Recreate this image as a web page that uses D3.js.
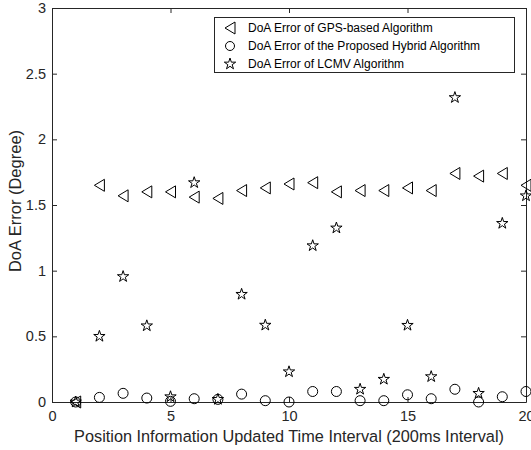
<!DOCTYPE html>
<html>
<head>
<meta charset="utf-8">
<script src="https://cdn.jsdelivr.net/npm/d3@7"></script>
<style>
  body { margin: 0; background: #fff; }
  svg { font-family: "Liberation Sans", Arial, sans-serif; }
</style>
</head>
<body>
<svg id="chart" width="531" height="450"></svg>
<script>
// values
var xs = [1, 2, 3, 4, 5, 6, 7, 8, 9, 10, 11, 12, 13, 14, 15, 16, 17, 18, 19, 20];
var gps = [0, 1.65, 1.57, 1.60, 1.60, 1.56, 1.55, 1.61, 1.63, 1.66, 1.67, 1.60, 1.61, 1.61, 1.63, 1.61, 1.74, 1.72, 1.74, 1.65];
var hybrid = [0, 0.035, 0.066, 0.03, 0.005, 0.025, 0.02, 0.06, 0.01, 0.0, 0.08, 0.08, 0.01, 0.01, 0.055, 0.025, 0.097, 0.0, 0.04, 0.08];
var lcmv = [0, 0.50, 0.955, 0.58, 0.04, 1.67, 0.02, 0.82, 0.585, 0.23, 1.19, 1.325, 0.097, 0.173, 0.584, 0.193, 2.318, 0.066, 1.36, 1.57];
var xTicks = [0, 5, 10, 15, 20];
var yTicks = [0, 0.5, 1, 1.5, 2, 2.5, 3];
var legendLabels = [
  "DoA Error of GPS-based Algorithm",
  "DoA Error of the Proposed Hybrid Algorithm",
  "DoA Error of LCMV Algorithm"
];

var plotL = 52, plotR = 526, plotT = 8, plotB = 402;
var svg = d3.select("#chart");

var x = d3.scaleLinear().domain([0, 20]).range([plotL, plotR]);
var y = d3.scaleLinear().domain([0, 3]).range([plotB, plotT]);

var tickFmt = function (d) { return d; };

// axes, ticks pointing inward like matlab
var gx = svg.append("g").attr("transform", "translate(0," + plotB + ")")
  .call(d3.axisBottom(x).tickValues(xTicks).tickSizeInner(-5).tickSizeOuter(0).tickPadding(9).tickFormat(tickFmt));
var gy = svg.append("g").attr("transform", "translate(" + plotL + ",0)")
  .call(d3.axisLeft(y).tickValues(yTicks).tickSizeInner(-5).tickSizeOuter(0).tickPadding(6).tickFormat(tickFmt));
var gt = svg.append("g").attr("transform", "translate(0," + plotT + ")")
  .call(d3.axisTop(x).tickValues(xTicks).tickSizeInner(-5).tickSizeOuter(0).tickFormat(""));
var gr = svg.append("g").attr("transform", "translate(" + plotR + ",0)")
  .call(d3.axisRight(y).tickValues(yTicks).tickSizeInner(-5).tickSizeOuter(0).tickFormat(""));

[gx, gy, gt, gr].forEach(function (g) {
  g.selectAll(".domain").attr("stroke", "#262626").attr("stroke-width", 1);
  g.selectAll(".tick line").attr("stroke", "#262626");
  g.selectAll(".tick text").attr("fill", "#262626").style("font-size", "14.5px");
});

svg.append("text")
  .attr("x", 289).attr("y", 442)
  .attr("text-anchor", "middle").attr("fill", "#262626")
  .style("font-size", "16.3px")
  .text("Position Information Updated Time Interval (200ms Interval)");

svg.append("text")
  .attr("transform", "translate(21,201) rotate(-90)")
  .attr("text-anchor", "middle").attr("fill", "#262626")
  .style("font-size", "16.5px")
  .text("DoA Error (Degree)");

// marker shapes
var triPath = "M5,-6L-5,0L5,6Z";
var starPath = d3.symbol().type(d3.symbolStar).size(40)();

var drawMarkers = function (vals, kind) {
  var g = svg.append("g");
  vals.forEach(function (v, i) {
    var px = x(xs[i]), py = y(v);
    if (kind === "circle") {
      g.append("circle").attr("cx", px).attr("cy", py).attr("r", 5)
        .attr("fill", "none").attr("stroke", "#000").attr("stroke-width", 1);
    } else {
      g.append("path").attr("d", kind === "tri" ? triPath : starPath)
        .attr("transform", "translate(" + px + "," + py + ")")
        .attr("fill", "none").attr("stroke", "#000").attr("stroke-width", 1);
    }
  });
};

drawMarkers(gps, "tri");
drawMarkers(hybrid, "circle");
drawMarkers(lcmv, "star");

// legend
var lg = svg.append("g");
lg.append("rect").attr("x", 214.5).attr("y", 17.5).attr("width", 300).attr("height", 55)
  .attr("fill", "#fff").attr("stroke", "#262626").attr("stroke-width", 1);
var kinds = ["tri", "circle", "star"];
legendLabels.forEach(function (lab, i) {
  var ly = 28 + i * 18;
  if (kinds[i] === "circle") {
    lg.append("circle").attr("cx", 230).attr("cy", ly).attr("r", 4.5)
      .attr("fill", "none").attr("stroke", "#000");
  } else {
    lg.append("path").attr("d", kinds[i] === "tri" ? triPath : starPath)
      .attr("transform", "translate(230," + ly + ")")
      .attr("fill", "none").attr("stroke", "#000");
  }
  lg.append("text").attr("x", 248).attr("y", ly + 4)
    .attr("fill", "#000").style("font-size", "12px").text(lab);
});
</script>
</body>
</html>
